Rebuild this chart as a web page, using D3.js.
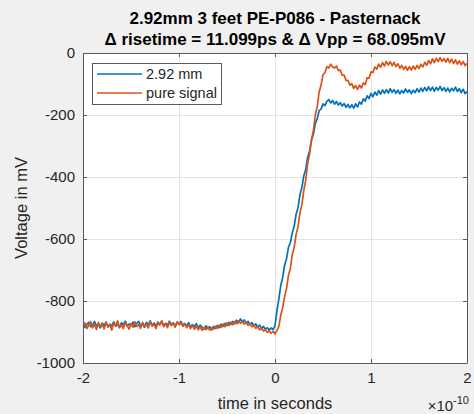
<!DOCTYPE html>
<html>
<head>
<meta charset="utf-8">
<script src="https://cdn.jsdelivr.net/npm/d3@7"></script>
<style>
  html, body { margin: 0; padding: 0; background: #f0f0f0; }
  svg { display: block; font-family: "Liberation Sans", Arial, Helvetica, sans-serif; }
</style>
</head>
<body>
<svg id="chart" width="474" height="414"></svg>
<script>
// Scope capture: 201 samples, 2 ps apart, starting at -200 ps (time axis in units of 1e-10 s)
const sampleStart = -2;
const sampleStep = 0.02;

// Voltage (mV) through the 2.92 mm cable
const cableMv = [
  -872,-885,-876,-869,-883,-878,-866,-881,-874,-887,
  -871,-879,-868,-884,-875,-880,-867,-882,-873,-886,
  -870,-877,-865,-881,-874,-879,-868,-883,-872,-866,
  -880,-873,-885,-869,-876,-864,-879,-871,-882,-868,
  -875,-866,-880,-872,-878,-865,-877,-870,-883,-869,
  -874,-866,-879,-872,-881,-870,-884,-876,-882,-873,
  -887,-878,-884,-891,-880,-889,-883,-893,-882,-888,
  -879,-886,-875,-882,-872,-879,-869,-876,-866,-873,
  -862,-870,-858,-868,-861,-872,-866,-876,-870,-880,
  -874,-884,-878,-888,-882,-891,-886,-894,-887,-892,
  -880,-832,-794,-750,-724,-685,-664,-627,-612,-580,
  -559,-520,-499,-457,-434,-396,-376,-337,-316,-281,
  -262,-228,-212,-186,-181,-164,-170,-156,-150,-161,
  -153,-165,-156,-168,-160,-171,-163,-175,-166,-177,
  -167,-178,-164,-174,-158,-165,-148,-155,-138,-147,
  -130,-141,-126,-136,-121,-133,-119,-130,-118,-129,
  -115,-127,-118,-130,-120,-132,-121,-129,-116,-127,
  -119,-131,-120,-128,-115,-126,-113,-124,-111,-122,
  -109,-121,-110,-123,-111,-120,-108,-121,-112,-124,
  -113,-125,-114,-122,-110,-124,-115,-128,-117,-131,
  -124
];

// Voltage (mV) of the pure signal
const pureMv = [
  -884,-871,-889,-878,-866,-887,-875,-892,-869,-881,
  -874,-890,-868,-883,-877,-894,-871,-880,-864,-886,
  -876,-889,-870,-879,-891,-873,-885,-867,-882,-876,
  -888,-869,-880,-874,-887,-866,-881,-875,-889,-870,
  -878,-864,-883,-873,-886,-868,-879,-871,-884,-867,
  -877,-870,-882,-874,-886,-876,-889,-879,-891,-881,
  -893,-884,-895,-885,-892,-883,-894,-886,-891,-881,
  -889,-878,-885,-874,-883,-871,-879,-868,-877,-866,
  -874,-864,-872,-866,-875,-869,-879,-873,-883,-878,
  -888,-883,-893,-888,-897,-893,-901,-896,-904,-898,
  -906,-895,-883,-846,-822,-785,-760,-717,-695,-650,
  -627,-585,-560,-515,-490,-443,-410,-357,-327,-280,
  -250,-200,-173,-125,-103,-70,-63,-44,-49,-36,
  -45,-48,-42,-57,-55,-72,-71,-89,-88,-104,
  -99,-114,-105,-117,-104,-113,-96,-102,-80,-81,
  -61,-63,-45,-52,-36,-46,-31,-42,-27,-39,
  -28,-41,-30,-44,-35,-49,-40,-53,-43,-56,
  -44,-55,-42,-53,-40,-50,-36,-45,-30,-40,
  -24,-35,-19,-31,-17,-28,-15,-27,-18,-29,
  -17,-31,-20,-34,-22,-36,-25,-38,-27,-41,
  -33
];

const seriesNames = ["2.92 mm", "pure signal"];
const seriesColors = ["#0072BD", "#D95319"];
const xTicks = [-2, -1, 0, 1, 2];
const yTicks = [0, -200, -400, -600, -800, -1000];
const titleLines = ["2.92mm 3 feet PE-P086 - Pasternack", "\u0394 risetime = 11.099ps & \u0394 Vpp = 68.095mV"];

const svg = d3.select("#chart");
const W = 474, H = 414;
const m = { left: 83, right: 7, top: 53, bottom: 51 };
const pw = W - m.left - m.right, ph = H - m.top - m.bottom;

const x = d3.scaleLinear().domain([-2, 2]).range([m.left, m.left + pw]);
const y = d3.scaleLinear().domain([-1000, 0]).range([m.top + ph, m.top]);

// plot area
svg.append("rect").attr("x", m.left).attr("y", m.top).attr("width", pw).attr("height", ph).attr("fill", "#fff");

// grid
const grid = svg.append("g").attr("stroke", "#e3e3e3").attr("stroke-width", 1);
xTicks.slice(1, -1).forEach(v => grid.append("line")
  .attr("x1", Math.round(x(v)) + 0.5).attr("x2", Math.round(x(v)) + 0.5)
  .attr("y1", m.top).attr("y2", m.top + ph));
yTicks.slice(1, -1).forEach(v => grid.append("line")
  .attr("x1", m.left).attr("x2", m.left + pw)
  .attr("y1", Math.round(y(v)) + 0.5).attr("y2", Math.round(y(v)) + 0.5));

// traces
const line = d3.line().x((d, i) => x(sampleStart + i * sampleStep)).y(d => y(d));
svg.append("clipPath").attr("id", "pa").append("rect")
  .attr("x", m.left).attr("y", m.top).attr("width", pw).attr("height", ph);
[cableMv, pureMv].forEach((s, k) => {
  svg.append("path").datum(s).attr("d", line)
    .attr("clip-path", "url(#pa)")
    .attr("fill", "none").attr("stroke", seriesColors[k])
    .attr("stroke-width", 1.7).attr("stroke-linejoin", "round");
});

// axes (box with inward ticks)
const axisColor = "#262626";
const tickFmt = d => d3.format("d")(d).replace("\u2212", "-");
const axB = d3.axisBottom(x).tickValues(xTicks).tickSizeInner(-4).tickSizeOuter(0).tickPadding(9).tickFormat(tickFmt);
const axT = d3.axisTop(x).tickValues(xTicks).tickSizeInner(-4).tickSizeOuter(0).tickFormat("");
const axL = d3.axisLeft(y).tickValues(yTicks).tickSizeInner(-4).tickSizeOuter(0).tickPadding(8).tickFormat(tickFmt);
const axR = d3.axisRight(y).tickValues(yTicks).tickSizeInner(-4).tickSizeOuter(0).tickFormat("");

function styleAxis(g) {
  g.select(".domain").attr("stroke", "#5a5a5a");
  g.selectAll(".tick line").attr("stroke", "#5a5a5a");
  g.selectAll("text").attr("fill", axisColor).attr("font-size", 15)
    .attr("font-family", "'Liberation Sans', Arial, sans-serif");
}
svg.append("g").attr("transform", `translate(0,${m.top + ph})`).call(axB).call(styleAxis);
svg.append("g").attr("transform", `translate(0,${m.top})`).call(axT).call(styleAxis);
svg.append("g").attr("transform", `translate(${m.left},0)`).call(axL).call(styleAxis);
svg.append("g").attr("transform", `translate(${m.left + pw},0)`).call(axR).call(styleAxis);

// titles
titleLines.forEach((t, i) => {
  svg.append("text").attr("x", m.left + pw / 2).attr("y", 24 + i * 21)
    .attr("text-anchor", "middle").attr("font-weight", "bold").attr("font-size", 17)
    .attr("fill", "#000").text(t);
});

// axis labels
svg.append("text").attr("x", m.left + pw / 2).attr("y", 409)
  .attr("text-anchor", "middle").attr("font-size", 16.5).attr("fill", axisColor).text("time in seconds");
svg.append("text").attr("transform", `translate(27,${m.top + ph / 2}) rotate(-90)`)
  .attr("text-anchor", "middle").attr("font-size", 16.5).attr("fill", axisColor).text("Voltage in mV");

// exponent label
const ex = svg.append("text").attr("x", 469).attr("y", 411).attr("text-anchor", "end")
  .attr("font-size", 15).attr("fill", axisColor);
ex.append("tspan").text("\u00d710");
ex.append("tspan").attr("dy", -7).attr("font-size", 11).text("-10");

// legend
const lg = svg.append("g").attr("transform", "translate(92,63)");
lg.append("rect").attr("x", 0.5).attr("y", 0.5).attr("width", 129).attr("height", 41)
  .attr("fill", "#fff").attr("stroke", "#5a5a5a");
seriesNames.forEach((n, i) => {
  const yy = 11 + i * 19;
  lg.append("line").attr("x1", 5).attr("x2", 50).attr("y1", yy).attr("y2", yy)
    .attr("stroke", seriesColors[i]).attr("stroke-width", 1.5);
  lg.append("text").attr("x", 54).attr("y", yy + 5).attr("font-size", 14.5)
    .attr("fill", axisColor).text(n);
});
</script>
</body>
</html>
